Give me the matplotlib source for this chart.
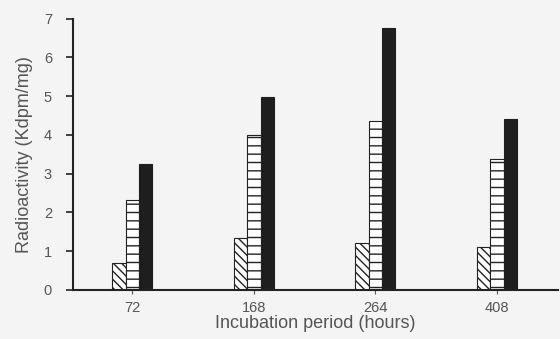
import matplotlib
matplotlib.use("Agg")
import matplotlib.pyplot as plt
import numpy as np

# incubation period categories and radioactivity (Kdpm/mg)
hours = ["72", "168", "264", "408"]
hatched_vals = [0.70, 1.33, 1.20, 1.11]
striped_vals = [2.32, 4.00, 4.35, 3.37]
solid_vals = [3.25, 4.98, 6.76, 4.42]

plt.rcParams['font.family'] = ['Liberation Sans', 'DejaVu Sans']
plt.rcParams['hatch.linewidth'] = 1.0

fig = plt.figure(figsize=(5.6, 3.39), dpi=100)
fig.patch.set_facecolor('#f4f4f4')
ax = fig.add_axes([0.130, 0.145, 0.866, 0.80])
ax.set_facecolor('#f4f4f4')

x = np.arange(len(hours))
w = 0.11
ax.bar(x - w, hatched_vals, w, color='white', edgecolor='#222222', hatch='\\\\\\\\', linewidth=0.8)
ax.bar(x, striped_vals, w, color='white', edgecolor='#222222', hatch='--', linewidth=0.8)
ax.bar(x + w, solid_vals, w, color='#1e1e1e', edgecolor='#1e1e1e', linewidth=0.8)

ax.set_xlim(-0.49, 3.5)
ax.set_ylim(0, 7)
ax.set_xticks(x)
ax.set_xticklabels(hours)
ax.set_yticks(range(8))

for s in ['top', 'right']:
    ax.spines[s].set_visible(False)
for s in ['left', 'bottom']:
    ax.spines[s].set_linewidth(1.5)
    ax.spines[s].set_color('#222222')

ax.tick_params(axis='y', direction='out', length=5, width=1.2, colors='#222222', labelcolor='#555555', labelsize=10.5, pad=10)
ax.tick_params(axis='x', direction='out', length=3, width=0.8, colors='#555555', labelcolor='#555555', labelsize=10.5, pad=5)

ax.set_xlabel('Incubation period (hours)', color='#555555', fontsize=13, labelpad=0)
ax.set_ylabel('Radioactivity (Kdpm/mg)', color='#555555', fontsize=13, labelpad=8)

plt.savefig('out.png', dpi=100, facecolor=fig.get_facecolor())
